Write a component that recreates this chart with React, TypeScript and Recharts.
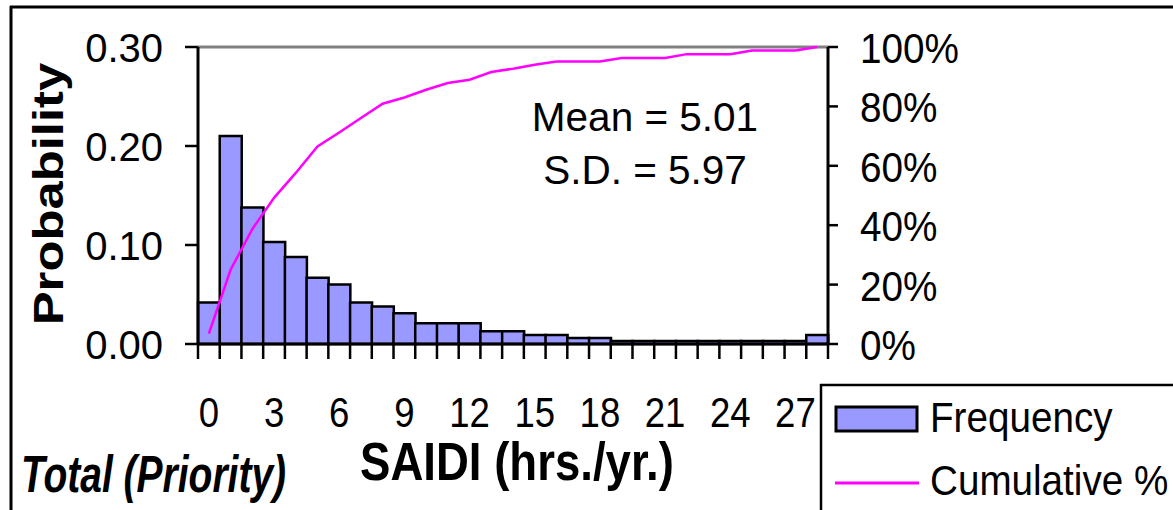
import React from 'react';
import { ComposedChart, Bar, Line, XAxis, YAxis, ReferenceLine } from 'recharts';

// SAIDI bins (hrs./yr.), one bar per bin
const bins = [0, 1, 2, 3, 4, 5, 6, 7, 8, 9, 10, 11, 12, 13, 14, 15, 16, 17, 18, 19, 20, 21, 22, 23, 24, 25, 26, 27, 28];
const probability = [
  0.042, 0.21, 0.138, 0.103, 0.088, 0.067, 0.06, 0.042, 0.038, 0.031, 0.021, 0.021, 0.021, 0.013, 0.013,
  0.009, 0.009, 0.006, 0.006, 0.003, 0.003, 0.003, 0.003, 0.003, 0.003, 0.003, 0.003, 0.003, 0.009,
];
const cumulative = [
  0.035, 0.25, 0.387, 0.492, 0.576, 0.665, 0.712, 0.761, 0.809, 0.83, 0.856, 0.879, 0.89, 0.916, 0.927,
  0.94, 0.951, 0.951, 0.951, 0.963, 0.963, 0.963, 0.976, 0.976, 0.976, 0.988, 0.988, 0.988, 1.0,
];
const xTicks = [0, 1, 2, 3, 4, 5, 6, 7, 8, 9, 10, 11, 12, 13, 14, 15, 16, 17, 18, 19, 20, 21, 22, 23, 24, 25, 26, 27, 28, 29];
const leftTicks = [0, 0.1, 0.2, 0.3];
const rightTicks = [0, 0.2, 0.4, 0.6, 0.8, 1];
const seriesNames = { freq: 'Frequency', cum: 'Cumulative %' };
const mean = 5.01;
const sd = 5.97;

const rows = bins.map((b, i) => ({ x: b + 0.5, p: probability[i], c: cumulative[i] }));

const FONT = '"Liberation Sans", Arial, sans-serif';
const BAND = 630 / 29;

const XTick = (props: any) => {
  const { x, y, payload } = props;
  const v = payload.value;
  if (v % 3 !== 0 || v > 27) return <g />;
  return (
    <text
      transform={`translate(${x + BAND / 2},${y + 68}) scale(0.87,1)`}
      textAnchor="middle"
      fontSize={42}
      fontFamily={FONT}
      fill="#000"
    >
      {v}
    </text>
  );
};

const LeftTick = (props: any) => {
  const { x, y, payload } = props;
  return (
    <text x={x} y={y + 15} textAnchor="end" fontSize={40} fontFamily={FONT} fill="#000">
      {payload.value.toFixed(2)}
    </text>
  );
};

const RightTick = (props: any) => {
  const { x, y, payload } = props;
  return (
    <text
      transform={`translate(${x},${y + 16}) scale(0.9,1)`}
      textAnchor="start"
      fontSize={43}
      fontFamily={FONT}
      fill="#000"
    >
      {Math.round(payload.value * 100)}%
    </text>
  );
};

export default function App() {
  return (
    <div style={{ position: 'absolute', left: 0, top: 0, width: 1173, height: 510, background: '#fff' }}>
      <ComposedChart
        width={1173}
        height={510}
        data={rows}
        margin={{ top: 47, right: 0, bottom: 0, left: 0 }}
        barCategoryGap={0}
        barGap={0}
      >
        <XAxis
          dataKey="x"
          type="number"
          domain={[0, 29]}
          ticks={xTicks}
          interval={0}
          height={166}
          tickSize={15}
          tickMargin={0}
          axisLine={{ stroke: '#000', strokeWidth: 3 }}
          tickLine={{ stroke: '#000', strokeWidth: 2.5 }}
          tick={<XTick />}
        />
        <YAxis
          yAxisId="p"
          domain={[0, 0.3]}
          ticks={leftTicks}
          width={198}
          tickSize={13}
          tickMargin={22}
          axisLine={{ stroke: '#000', strokeWidth: 3 }}
          tickLine={{ stroke: '#000', strokeWidth: 2.5 }}
          tick={<LeftTick />}
        />
        <YAxis
          yAxisId="c"
          orientation="right"
          domain={[0, 1]}
          ticks={rightTicks}
          width={345}
          tickSize={10}
          tickMargin={22}
          axisLine={{ stroke: '#000', strokeWidth: 3 }}
          tickLine={{ stroke: '#000', strokeWidth: 2.5 }}
          tick={<RightTick />}
        />
        <ReferenceLine yAxisId="p" y={0.3} stroke="#808080" strokeWidth={3} />
        <Bar
          yAxisId="p"
          dataKey="p"
          name={seriesNames.freq}
          fill="#9999FF"
          stroke="#000"
          strokeWidth={2.5}
          isAnimationActive={false}
        />
        <Line
          yAxisId="c"
          dataKey="c"
          name={seriesNames.cum}
          type="linear"
          stroke="#FF00FF"
          strokeWidth={2.5}
          dot={false}
          isAnimationActive={false}
        />
      </ComposedChart>

      <svg
        width={1173}
        height={510}
        style={{ position: 'absolute', left: 0, top: 0, pointerEvents: 'none' }}
        fontFamily={FONT}
      >
        {/* outer frame */}
        <line x1={10} y1={7} x2={1173} y2={7} stroke="#000" strokeWidth={3} />
        <line x1={11} y1={6} x2={11} y2={510} stroke="#000" strokeWidth={3} />

        {/* stats */}
        <text x={645} y={131} textAnchor="middle" fontSize={40.5} fill="#000">
          Mean = {mean.toFixed(2)}
        </text>
        <text x={645} y={184} textAnchor="middle" fontSize={40.5} fill="#000">
          S.D. = {sd.toFixed(2)}
        </text>

        {/* axis titles */}
        <text
          transform="translate(63,194) rotate(-90) scale(1.21,1)"
          textAnchor="middle"
          fontSize={42}
          fontWeight="bold"
          fill="#000"
        >
          Probability
        </text>
        <text transform="translate(360,480) scale(0.86,1)" fontSize={53} fontWeight="bold" fill="#000">
          SAIDI (hrs./yr.)
        </text>
        <text
          transform="translate(21,492) scale(0.765,1)"
          fontSize={51}
          fontWeight="bold"
          fontStyle="italic"
          fill="#000"
        >
          Total (Priority)
        </text>

        {/* legend */}
        <line x1={820} y1={385} x2={1173} y2={385} stroke="#000" strokeWidth={2.5} />
        <line x1={821} y1={384} x2={821} y2={510} stroke="#000" strokeWidth={2.5} />
        <rect x={836} y={407} width={81} height={24} fill="#9999FF" stroke="#000" strokeWidth={3} />
        <text transform="translate(930,432) scale(0.92,1)" fontSize={42} fill="#000">
          {seriesNames.freq}
        </text>
        <line x1={835} y1={483} x2={919} y2={483} stroke="#FF00FF" strokeWidth={3} />
        <text transform="translate(930,495) scale(0.92,1)" fontSize={42} fill="#000">
          {seriesNames.cum}
        </text>
      </svg>
    </div>
  );
}
